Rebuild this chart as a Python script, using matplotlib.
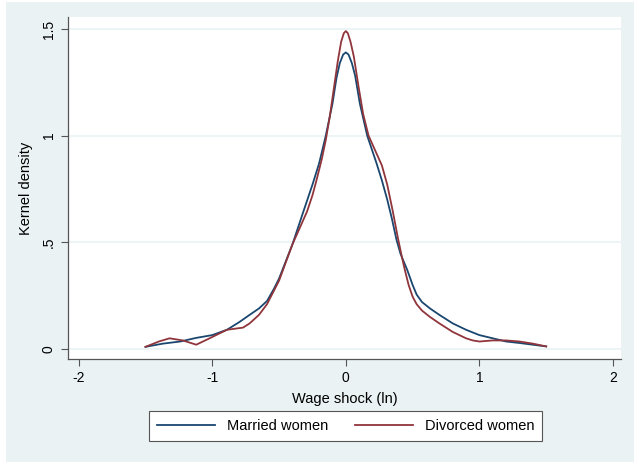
import matplotlib
matplotlib.use("Agg")
import matplotlib.pyplot as plt
from matplotlib.patches import Rectangle

# kernel density estimates of log wage shocks, by marital status
married_x = [-1.50, -1.37, -1.24, -1.12, -1.00, -0.89, -0.80, -0.72, -0.65, -0.59,
             -0.54, -0.50, -0.45, -0.40, -0.32, -0.25, -0.20, -0.15, -0.10, -0.07,
             -0.045, -0.02, 0.00, 0.02, 0.045, 0.07, 0.105, 0.16, 0.23, 0.27, 0.31,
             0.345, 0.38, 0.41, 0.46, 0.50, 0.53, 0.57, 0.63, 0.70, 0.80, 0.90, 1.00,
             1.10, 1.20, 1.30, 1.40, 1.50]
married_y = [0.010, 0.025, 0.035, 0.052, 0.065, 0.090, 0.125, 0.160, 0.190, 0.225,
             0.280, 0.330, 0.410, 0.490, 0.640, 0.770, 0.870, 1.000, 1.150, 1.270,
             1.340, 1.380, 1.390, 1.380, 1.340, 1.280, 1.150, 1.000, 0.870, 0.790, 0.700,
             0.610, 0.510, 0.445, 0.370, 0.300, 0.255, 0.220, 0.190, 0.160, 0.120, 0.090,
             0.065, 0.050, 0.035, 0.028, 0.020, 0.012]

divorced_x = [-1.50, -1.40, -1.32, -1.22, -1.12, -1.02, -0.89, -0.77, -0.72, -0.65,
              -0.59, -0.50, -0.40, -0.35, -0.29, -0.25, -0.22, -0.18, -0.15, -0.12,
              -0.09, -0.06, -0.035, -0.015, 0.00, 0.015, 0.035, 0.06, 0.095, 0.13,
              0.17, 0.22, 0.27, 0.31, 0.35, 0.39, 0.42, 0.44, 0.47, 0.50, 0.53, 0.57,
              0.63, 0.70, 0.80, 0.90, 0.95, 1.00, 1.10, 1.20, 1.30, 1.40, 1.50]
divorced_y = [0.010, 0.035, 0.050, 0.040, 0.020, 0.050, 0.090, 0.100, 0.120, 0.160,
              0.210, 0.320, 0.490, 0.560, 0.645, 0.720, 0.790, 0.890, 0.980, 1.090,
              1.220, 1.350, 1.440, 1.480, 1.490, 1.480, 1.440, 1.370, 1.230, 1.100,
              1.000, 0.930, 0.860, 0.770, 0.650, 0.520, 0.430, 0.375, 0.300, 0.245, 0.210,
              0.180, 0.150, 0.120, 0.080, 0.050, 0.040, 0.035, 0.040, 0.040, 0.035, 0.025,
              0.012]

x_ticks = [-2, -1, 0, 1, 2]
y_ticks = [0, 0.5, 1, 1.5]
y_tick_labels = ["0", ".5", "1", "1.5"]

NAVY = "#1A476F"
MAROON = "#90353B"
BG = "#EAF2F3"

plt.rcParams["font.family"] = ["Liberation Sans", "DejaVu Sans"]

W, H = 634, 462
fig = plt.figure(figsize=(W / 100, H / 100), dpi=100, facecolor="white")
fig.patches.append(Rectangle((6 / W, 0), 1, 1 - 2 / H, transform=fig.transFigure,
                             facecolor=BG, edgecolor="none", zorder=-1))

ax = fig.add_axes([68 / W, 1 - 359 / H, (621 - 68) / W, (359 - 17) / H])
ax.set_facecolor("white")

ax.plot(married_x, married_y, color=NAVY, lw=1.3, label="Married women",
        solid_joinstyle="round")
ax.plot(divorced_x, divorced_y, color=MAROON, lw=1.3, label="Divorced women",
        solid_joinstyle="round")

ax.set_xlim(-2.08, 2.06)
ax.set_ylim(-0.047, 1.556)

ax.set_xticks(x_ticks)
ax.set_xticklabels([str(t) for t in x_ticks])
ax.set_yticks(y_ticks)
ax.set_yticklabels(y_tick_labels, rotation=90, va="center")
ax.tick_params(axis="both", direction="out", length=5, width=0.8, color="#555555",
               labelsize=10, pad=4)
ax.yaxis.grid(True, color=BG, lw=1.2)
ax.set_axisbelow(True)

for side in ["top", "right"]:
    ax.spines[side].set_visible(False)
for side in ["left", "bottom"]:
    ax.spines[side].set_color("#555555")
    ax.spines[side].set_linewidth(0.9)

ax.set_xlabel("Wage shock (ln)", fontsize=10.5, labelpad=5)
ax.set_ylabel("Kernel density", fontsize=10.5, labelpad=6)

leg = fig.legend(loc="center", bbox_to_anchor=(345.5 / W, 1 - 426 / H), ncol=2,
                 fontsize=10.5, frameon=True, fancybox=False, edgecolor="#555555",
                 framealpha=1, handlelength=4.0, handletextpad=0.8,
                 columnspacing=1.8, borderpad=0.55)
leg.get_frame().set_linewidth(0.8)

fig.savefig("out.png", dpi=100, facecolor=fig.get_facecolor())
